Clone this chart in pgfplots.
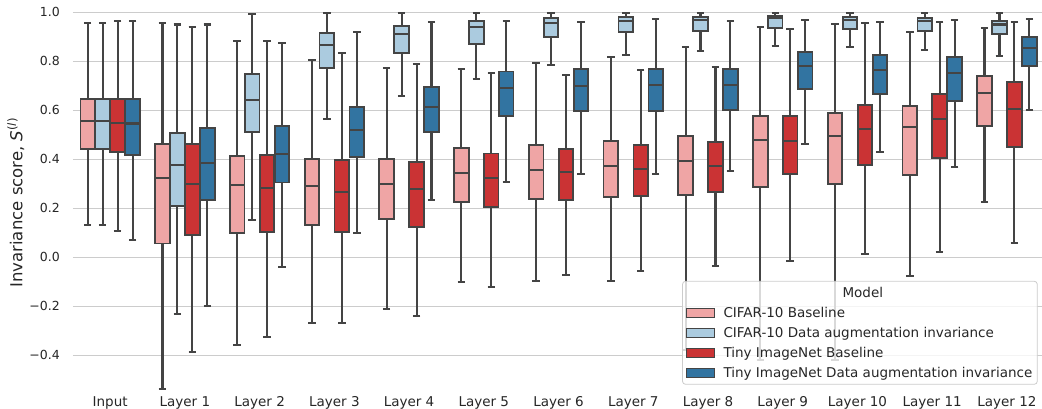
\documentclass[border=0pt]{standalone}
\usepackage{fontspec}
\setmainfont{DejaVu Sans}
\usepackage{pgfplots}
\pgfplotsset{compat=1.18}
\usepgfplotslibrary{statistics}
\definecolor{cb}{HTML}{EFA5A5}
\definecolor{cda}{HTML}{ABCBDF}
\definecolor{tb}{HTML}{CA3334}
\definecolor{tda}{HTML}{3274A1}
\definecolor{edgec}{HTML}{444444}
\definecolor{gridc}{HTML}{CCCCCC}
\definecolor{textc}{HTML}{262626}
% draw position, lower whisker, Q1, median, Q3, upper whisker, colour
\newcommand{\bx}[7]{\addplot[forget plot, solid, draw=edgec, fill=#7, line width=1.8pt,
  boxplot prepared={draw position=#1, lower whisker=#2, lower quartile=#3, median=#4,
  upper quartile=#5, upper whisker=#6, box extend=0.195, whisker extend=0.1}] coordinates {};}
\begin{document}
\begin{tikzpicture}
\useasboundingbox (-72.8pt,-15.7pt) rectangle (969.2pt,393.3pt);
\begin{axis}[at={(0pt,0pt)}, anchor=south west, scale only axis,
  width=971.5pt, height=381pt,
  xmin=-0.5, xmax=12.5, ymin=-0.555, ymax=1.0, clip=false,
  boxplot/draw direction=y,
  boxplot/every box/.style={draw=edgec, line width=1.8pt},
  boxplot/every whisker/.style={draw=edgec, line width=2.1pt},
  boxplot/every median/.style={draw=edgec, line width=2.1pt},
  axis line style={draw=none}, major tick length=0pt,
  xtick={0,1,2,3,4,5,6,7,8,9,10,11,12},
  xticklabels={Input,Layer 1,Layer 2,Layer 3,Layer 4,Layer 5,Layer 6,Layer 7,Layer 8,Layer 9,Layer 10,Layer 11,Layer 12},
  ytick={-0.4,-0.2,0,0.2,0.4,0.6,0.8,1.0},
  yticklabels={−0.4,−0.2,0.0,0.2,0.4,0.6,0.8,1.0},
  ymajorgrids, grid style={color=gridc, line width=1pt},
  xticklabel style={font=\fontsize{13.5}{16}\selectfont, text=textc},
  yticklabel style={font=\fontsize{12.5}{15}\selectfont, text=textc, xshift=-9.5pt},
  ylabel={Invariance score, \textit{S}\textsuperscript{(\textit{l})}},
  ylabel style={at={(axis description cs:-0.0587,0.5)}, anchor=center, font=\fontsize{16.5}{19}\selectfont, text=textc},
  legend cell align=left,
  legend style={at={(0.9932,0.0226)}, anchor=south east, draw=gridc, line width=0.8pt,
    fill=white, fill opacity=0.8, draw opacity=1, text opacity=1, rounded corners=3pt,
    inner xsep=3pt, inner ysep=1.5pt, column sep=7pt,
    font=\fontsize{13.5}{16}\selectfont,
    nodes={inner ysep=5pt, inner xsep=2pt, text height=10pt, text depth=0pt, text=textc}},
  legend image code/.code={\draw[#1, sharp corners, fill opacity=1, draw opacity=1, line width=1pt] (0pt,-4.5pt) rectangle (28pt,4.5pt);},
]
% Input
\bx{-0.3}{0.132}{0.443}{0.558}{0.647}{0.955}{cb}
\bx{-0.1}{0.132}{0.443}{0.558}{0.647}{0.955}{cda}
\bx{0.1}{0.109}{0.430}{0.549}{0.647}{0.964}{tb}
\bx{0.3}{0.069}{0.416}{0.546}{0.647}{0.964}{tda}
% Layer 1
\bx{0.7}{-0.538}{0.056}{0.322}{0.462}{0.955}{cb}
\bx{0.9}{-0.233}{0.211}{0.375}{0.506}{0.950}{cda}
\bx{1.1}{-0.388}{0.091}{0.300}{0.461}{0.940}{tb}
\bx{1.3}{-0.199}{0.235}{0.386}{0.529}{0.950}{tda}
% Layer 2
\bx{1.7}{-0.358}{0.100}{0.295}{0.415}{0.884}{cb}
\bx{1.9}{0.152}{0.510}{0.642}{0.747}{0.992}{cda}
\bx{2.1}{-0.325}{0.103}{0.284}{0.418}{0.884}{tb}
\bx{2.3}{-0.041}{0.305}{0.423}{0.535}{0.876}{tda}
% Layer 3
\bx{2.7}{-0.267}{0.133}{0.291}{0.401}{0.805}{cb}
\bx{2.9}{0.565}{0.774}{0.865}{0.914}{0.998}{cda}
\bx{3.1}{-0.269}{0.102}{0.268}{0.396}{0.834}{tb}
\bx{3.3}{0.100}{0.408}{0.520}{0.612}{0.920}{tda}
% Layer 4
\bx{3.7}{-0.211}{0.156}{0.298}{0.402}{0.773}{cb}
\bx{3.9}{0.658}{0.833}{0.911}{0.945}{0.998}{cda}
\bx{4.1}{-0.240}{0.124}{0.279}{0.390}{0.789}{tb}
\bx{4.3}{0.234}{0.510}{0.615}{0.694}{0.960}{tda}
% Layer 5
\bx{4.7}{-0.101}{0.227}{0.344}{0.445}{0.769}{cb}
\bx{4.9}{0.727}{0.871}{0.941}{0.966}{0.998}{cda}
\bx{5.1}{-0.122}{0.205}{0.322}{0.424}{0.752}{tb}
\bx{5.3}{0.306}{0.578}{0.692}{0.758}{0.964}{tda}
% Layer 6
\bx{5.7}{-0.097}{0.238}{0.358}{0.460}{0.792}{cb}
\bx{5.9}{0.785}{0.900}{0.958}{0.977}{0.998}{cda}
\bx{6.1}{-0.072}{0.235}{0.347}{0.442}{0.744}{tb}
\bx{6.3}{0.340}{0.597}{0.700}{0.769}{0.962}{tda}
% Layer 7
\bx{6.7}{-0.095}{0.247}{0.374}{0.476}{0.817}{cb}
\bx{6.9}{0.826}{0.918}{0.966}{0.981}{0.998}{cda}
\bx{7.1}{-0.056}{0.250}{0.359}{0.457}{0.763}{tb}
\bx{7.3}{0.340}{0.596}{0.702}{0.767}{0.974}{tda}
% Layer 8
\bx{7.7}{-0.380}{0.254}{0.393}{0.496}{0.858}{cb}
\bx{7.9}{0.842}{0.925}{0.969}{0.982}{0.998}{cda}
\bx{8.1}{-0.037}{0.268}{0.374}{0.472}{0.777}{tb}
\bx{8.3}{0.352}{0.601}{0.705}{0.769}{0.964}{tda}
% Layer 9
\bx{8.7}{-0.420}{0.288}{0.479}{0.578}{0.939}{cb}
\bx{8.9}{0.864}{0.935}{0.975}{0.986}{0.998}{cda}
\bx{9.1}{-0.014}{0.340}{0.475}{0.577}{0.931}{tb}
\bx{9.3}{0.461}{0.688}{0.781}{0.838}{0.970}{tda}
% Layer 10
\bx{9.7}{-0.420}{0.298}{0.494}{0.589}{0.953}{cb}
\bx{9.9}{0.858}{0.931}{0.969}{0.982}{0.998}{cda}
\bx{10.1}{0.015}{0.378}{0.525}{0.620}{0.955}{tb}
\bx{10.3}{0.431}{0.668}{0.764}{0.826}{0.959}{tda}
% Layer 11
\bx{10.7}{-0.078}{0.336}{0.532}{0.618}{0.918}{cb}
\bx{10.9}{0.847}{0.925}{0.964}{0.977}{0.998}{cda}
\bx{11.1}{0.022}{0.404}{0.564}{0.665}{0.960}{tb}
\bx{11.3}{0.367}{0.639}{0.751}{0.819}{0.970}{tda}
% Layer 12
\bx{11.7}{0.224}{0.535}{0.672}{0.740}{0.936}{cb}
\bx{11.9}{0.823}{0.910}{0.950}{0.966}{0.998}{cda}
\bx{12.1}{0.058}{0.451}{0.607}{0.717}{0.960}{tb}
\bx{12.3}{0.601}{0.780}{0.853}{0.898}{0.971}{tda}
% legend
\addlegendimage{empty legend}
\addlegendentry{\hspace*{119pt}Model}
\addlegendimage{fill=cb, draw=edgec}
\addlegendentry{CIFAR-10 Baseline}
\addlegendimage{fill=cda, draw=edgec}
\addlegendentry{CIFAR-10 Data augmentation invariance}
\addlegendimage{fill=tb, draw=edgec}
\addlegendentry{Tiny ImageNet Baseline}
\addlegendimage{fill=tda, draw=edgec}
\addlegendentry{Tiny ImageNet Data augmentation invariance}
\end{axis}
\end{tikzpicture}
\end{document}
